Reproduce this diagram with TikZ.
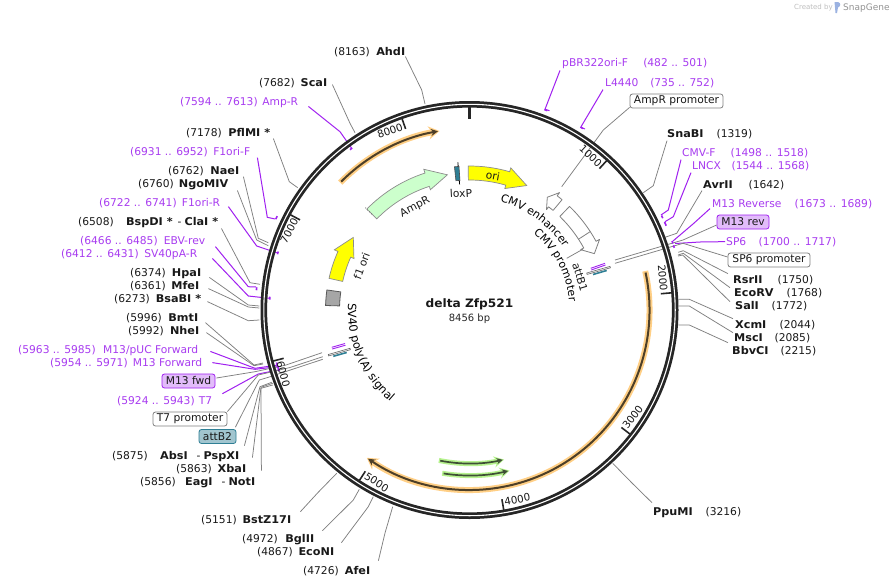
\documentclass[tikz,border=0pt]{standalone}
\usepackage{fontspec}
\setmainfont{DejaVu Sans}[BoldFeatures={FakeStretch=1.05}]
\usetikzlibrary{arrows.meta,decorations.text}
\definecolor{prim}{HTML}{A020F0}
\definecolor{primtxt}{HTML}{A83CF0}
\definecolor{conng}{HTML}{808080}
\definecolor{ringc}{HTML}{262626}
\definecolor{halo}{HTML}{FFCF85}
\definecolor{halog}{HTML}{B6F28E}
\definecolor{darkor}{HTML}{4D3F28}
\definecolor{darkgr}{HTML}{3F4F36}
\definecolor{yel}{HTML}{FFFF00}
\definecolor{teal1}{HTML}{2F7F95}
\tikzset{
  lbl/.style={anchor=base west,inner sep=0pt,font=\fontsize{10.7}{12}\selectfont,text=black!90},
  plbl/.style={lbl,text=primtxt},
  conn/.style={draw=conng,line width=0.75pt},
  pconn/.style={draw=prim,line width=1pt},
  rbox/.style={rounded corners=2.5pt,draw=conng,fill=white,line width=0.8pt,inner xsep=3pt,inner ysep=0pt,minimum height=14pt,font=\fontsize{10.7}{12}\selectfont,text=black!90},
  pbox/.style={rbox,draw=prim,fill=prim!30},
  tbox/.style={rbox,draw=teal1,fill=teal1!45},
  ticklab/.style={inner sep=0pt,font=\fontsize{10.3}{12}\selectfont,text=black!90},
  featlab/.style={inner sep=0pt,font=\fontsize{10.7}{12}\selectfont,text=black!90},
  primmark/.style={draw=prim,line width=1.6pt},
  whitefeat/.style={draw=conng,fill=white,line width=0.8pt,line join=round},
}
% label: [style]{name}{xL}{xR}{ycentre}{content}
\newcommand{\lab}[6][lbl]{\node[#1] (#2) at (#3,#5+4) {\hbox to \dimexpr #4pt-#3pt\relax{#6}};}
% connector: style, node, anchor, shift, elbow(s), free end
\newcommand{\cn}[6]{\coordinate (#2-end) at (#6); \draw[#1] ([shift={(#4)}]#2.#3) -- (#5) -- (#2-end);}
% feature arrow around centre: style, start, head base, tip
\newcommand{\featarrow}[4]{\draw[#1] ({#2-90}:130) arc[radius=130,start angle={#2-90},end angle={#3-90}] -- ({#3-90}:126.5) -- ({#4-90}:137) -- ({#3-90}:148) -- ({#3-90}:144) arc[radius=144,start angle={#3-90},end angle={#2-90}] -- cycle;}
\newcommand{\tickm}[1]{\draw[ringc,line width=1.6pt] ({#1-90}:203) -- ({#1-90}:192);}
\newcommand{\primer}[3]{\draw[primmark] ({#1-90}:#3) arc[radius=#3,start angle={#1-90},end angle={#2-90}];}
\begin{document}
\begin{tikzpicture}[x=1pt,y=-1pt]
\useasboundingbox[fill=white] (0,0) rectangle (891,587);
% watermark
\node[inner sep=0pt,anchor=west,font=\fontsize{7}{8}\selectfont,text=black!25] (wm1) at (794,7.5) {Created by};
\fill[cyan!45!blue!40] (834.5,2) -- (838,2) .. controls (841,3) and (841,6) .. (838,7.5) -- (837,13) -- (835.5,13) -- cycle;
\node[inner sep=0pt,anchor=west,font=\fontsize{9}{10}\selectfont,text=black!42] (wm2) at (843,8) {SnapGene};

% ---- labels: left
\lab{ahdi}{334}{405}{51}{(8163)\hfill\textbf{AhdI}}
\lab{scai}{259}{327}{82}{(7682)\hfill\textbf{ScaI}}
\lab[plbl]{ampr}{180}{298}{101}{(7594 .. 7613)\hfill Amp-R}
\lab{pflmi}{186}{270}{132}{(7178)\hfill\textbf{PflMI *}}
\lab[plbl]{fonef}{130}{250}{151}{(6931 .. 6952)\hfill F1ori-F}
\lab{naei}{168}{239}{170}{(6762)\hfill\textbf{NaeI}}
\lab{ngomiv}{138}{228}{183}{(6760)\hfill\textbf{NgoMIV}}
\lab[plbl]{foner}{99}{220}{202}{(6722 .. 6741)\hfill F1ori-R}
\lab{bspdi}{78}{218}{221}{(6508)\hfill\textbf{BspDI *}\hspace{5pt}-\hspace{3pt}\textbf{ClaI *}}
\lab[plbl]{ebvrev}{80}{205}{240}{(6466 .. 6485)\hfill EBV-rev}
\lab[plbl]{svpar}{61}{197}{253}{(6412 .. 6431)\hfill SV40pA-R}
\lab{hpai}{130}{201}{272}{(6374)\hfill\textbf{HpaI}}
\lab{mfei}{130}{199}{285}{(6361)\hfill\textbf{MfeI}}
\lab{bsabi}{114}{201}{298}{(6273)\hfill\textbf{BsaBI *}}
\lab{bmti}{126}{198}{317}{(5996)\hfill\textbf{BmtI}}
\lab{nhei}{128}{199}{330}{(5992)\hfill\textbf{NheI}}
\lab[plbl]{puc}{18}{198}{349}{(5963 .. 5985)\hfill M13/pUC Forward}
\lab[plbl]{mfwdp}{50}{202}{362}{(5954 .. 5971)\hfill M13 Forward}
\node[pbox,minimum width=53pt] (mfwd) at (188.5,381) {M13 fwd};
\lab[plbl]{tseven}{117}{212}{400}{(5924 .. 5943)\hfill T7}
\node[rbox,minimum width=74pt] (tprom) at (190,419) {T7 promoter};
\node[tbox,minimum width=37pt] (attbtwo) at (217.5,436.5) {attB2};
\lab{absi}{112}{239}{455}{(5875)\hfill\textbf{AbsI}\hspace{9pt}-\hspace{3pt}\textbf{PspXI}}
\lab{xbai}{176}{246}{468}{(5863)\hfill\textbf{XbaI}}
\lab{eagi}{140}{255}{481}{(5856)\hfill\textbf{EagI}\hspace{9pt}-\hspace{3pt}\textbf{NotI}}
\lab{bstz}{201}{291}{519}{(5151)\hfill\textbf{BstZ17I}}
\lab{bglii}{242}{314}{538}{(4972)\hfill\textbf{BglII}}
\lab{econi}{257}{334}{551}{(4867)\hfill\textbf{EcoNI}}
\lab{afei}{303}{370}{570}{(4726)\hfill\textbf{AfeI}}
% ---- labels: right
\lab[plbl]{pbr}{562}{707}{62}{pBR322ori-F\hfill(482 .. 501)}
\lab[plbl]{lfour}{605}{714}{82}{L4440\hfill(735 .. 752)}
\node[rbox,minimum width=93pt] (aprom) at (676.5,101) {AmpR promoter};
\lab{snabi}{667}{752}{133}{\textbf{SnaBI}\hfill(1319)}
\lab[plbl]{cmvf}{682}{808}{152}{CMV-F\hfill(1498 .. 1518)}
\lab[plbl]{lncx}{692}{809}{165}{LNCX\hfill(1544 .. 1568)}
\lab{avrii}{703}{784}{184}{\textbf{AvrII}\hfill(1642)}
\lab[plbl]{mrevp}{712}{872}{203}{M13 Reverse\hfill(1673 .. 1689)}
\node[pbox,minimum width=52pt] (mrev) at (743,222) {M13 rev};
\lab[plbl]{spsix}{726}{836}{241}{SP6\hfill(1700 .. 1717)}
\node[rbox,minimum width=82pt] (sprom) at (769,260) {SP6 promoter};
\lab{rsrii}{733}{813}{279}{\textbf{RsrII}\hfill(1750)}
\lab{ecorv}{734}{822}{292}{\textbf{EcoRV}\hfill(1768)}
\lab{sali}{735}{807}{305}{\textbf{SalI}\hfill(1772)}
\lab{xcmi}{735}{815}{324}{\textbf{XcmI}\hfill(2044)}
\lab{msci}{734}{810}{337}{\textbf{MscI}\hfill(2085)}
\lab{bbvci}{732}{816}{350}{\textbf{BbvCI}\hfill(2215)}
\lab{ppumi}{653}{741}{511}{\textbf{PpuMI}\hfill(3216)}

% ---- connectors (under the ring)
\cn{conn}{ahdi}{south east}{0,0}{421.7,90}{425,104}
\cn{conn}{scai}{south east}{5,-3}{350,123.3}{355,132.7}
\cn{pconn}{ampr}{south east}{10,-1}{340,131.7}{351.7,148.3}
\cn{conn}{pflmi}{south east}{3,1}{289.3,181.7}{297.7,187.7}
\cn{pconn}{fonef}{south east}{7,1}{267.3,217.3}{275,219}
\cn{conn}{naei}{south east}{4,1}{258.3,238.3}{268.3,242.7}
\cn{conn}{ngomiv}{south east}{9,1}{256.7,240}{268.3,245.7}
\cn{pconn}{foner}{south east}{8,-1}{256.7,246}{276.7,252.7}
\cn{conn}{bspdi}{south east}{3,1}{250,282.7}{260,284.3}
\cn{pconn}{ebvrev}{south east}{10,1}{248.3,286.7}{256,287}
\cn{pconn}{svpar}{south east}{15,-1}{248.3,296}{269.3,298.3}
\cn{conn}{hpai}{south east}{8,-1}{248.3,305}{259.3,306}
\cn{conn}{mfei}{south east}{9,-2}{248.3,307}{259.3,308}
\cn{conn}{bsabi}{south east}{6,-2}{248.3,320.7}{259.3,320}
\cn{conn}{bmti}{south east}{7,0}{254,365}{263,363}
\cn{conn}{nhei}{south east}{7,-3}{254,365.7}{263,364}
\cn{pconn}{puc}{south east}{12,-4}{255,368.3}{278,365}
\cn{pconn}{mfwdp}{south east}{10,-5}{255,369.3}{278,366.7}
\cn{conn}{mfwd}{east}{1,-3}{255,371.7) -- (286,365}{322,352.7}
\cn{pconn}{tseven}{north east}{10,-2}{258.3,374}{278,370}
\cn{conn}{tprom}{north east}{0,0}{258.3,375) -- (290,367.5}{322.7,356.7}
\cn{conn}{attbtwo}{north east}{-1,-2}{259.3,380) -- (268.3,377.3}{322.7,359.3}
\cn{conn}{absi}{north east}{5,-5}{260,386.7}{271.7,382.3}
\cn{conn}{xbai}{north east}{6,-6}{261,387.3}{272.7,383.3}
\cn{conn}{eagi}{north east}{6,-6}{261,388.3}{272.7,385}
\cn{conn}{bstz}{north east}{9,-3}{318,492.5}{336.7,473.3}
\cn{conn}{bglii}{north east}{8,-3}{353.3,500}{359.3,489.3}
\cn{conn}{econi}{north east}{7,-4}{368.3,506.7}{373.3,496.7}
\cn{conn}{afei}{north east}{8,-5}{385,533}{392.7,506.7}
\cn{conn}{ppumi}{north west}{-1,-4}{632,483}{612.7,463.3}
\cn{pconn}{pbr}{south west}{-2,2}{545,109.3}{549.5,110.7}
\cn{pconn}{lfour}{south west}{-2,2}{580.7,127.3}{585,129}
\cn{conn}{aprom}{south west}{0,-1}{603.3,130}{561.7,186.7}
\cn{conn}{snabi}{south west}{0,2}{653.3,185.7}{643.3,192.7}
\cn{pconn}{cmvf}{south west}{-1,2}{668.3,210}{661,215}
\cn{pconn}{lncx}{south west}{-1,2}{673.3,216.7}{665,221.7}
\cn{conn}{avrii}{south west}{-1,1}{676.7,233.3}{665,237.3}
\cn{pconn}{mrevp}{south west}{-2,0}{693,224}{673,241}
\cn{conn}{mrev}{west}{0,3}{683,240}{615,260}
\cn{pconn}{spsix}{west}{-1,0}{700,242}{675,243.5}
\cn{conn}{sprom}{west}{0,-3}{683,243.3}{615,263.3}
\cn{conn}{rsrii}{north west}{-5,-1}{683.3,250.7}{678.3,252.3}
\cn{conn}{ecorv}{north west}{-4,0}{683.3,253.3}{678,255}
\cn{conn}{sali}{north west}{-5,1}{682.7,255}{678,256}
\cn{conn}{xcmi}{north west}{-2,-1}{689.3,299.3}{678.3,299.3}
\cn{conn}{msci}{north west}{-1,0}{689.3,306}{678.3,306}
\cn{conn}{bbvci}{north west}{-4,-3}{689.3,325}{678.3,325}

% ---- around the centre
\begin{scope}[shift={(469.5,310)}]
  % backbone ring
  \draw[ringc,line width=6.6pt] (0,0) circle[radius=205.7];
  \draw[white,line width=1.1pt] (0,0) circle[radius=205.7];
  \draw[ringc,line width=3pt] (-90:203) -- (-90:191);
  \tickm{42.57}\tickm{85.14}\tickm{127.71}\tickm{170.28}\tickm{212.86}\tickm{255.43}\tickm{298}\tickm{340.57}
  % primer marks
  \primer{20.5}{21.3}{214}
  \primer{31.3}{32}{214}
  \primer{323.3}{324.1}{200}
  \primer{295.1}{296}{214}
  \primer{286.2}{287}{200}
  \primer{275.3}{276.1}{214}
  \primer{273}{273.8}{200}
  \primer{63.8}{64.6}{214}
  \primer{65.7}{66.8}{214}
  \primer{71.2}{71.9}{214}
  \primer{72.4}{73.1}{214}
  \primer{252.2}{254.8}{200}
  % orange / green arcs
  \draw[halo,line width=6pt,-{Stealth[length=11pt,width=13pt]}] (-135.4:181.5) arc[radius=181.5,start angle=-135.4,end angle=-99.5];
  \draw[darkor,line width=2pt,-{Stealth[length=7pt,width=7pt]}] (-135:181.5) arc[radius=181.5,start angle=-135,end angle=-100];
  \draw[halo,line width=6pt,-{Stealth[length=11pt,width=13pt]}] (-12.5:180) arc[radius=180,start angle=-12.5,end angle=124.8];
  \draw[darkor,line width=2pt,-{Stealth[length=7pt,width=7pt]}] (-12:180) arc[radius=180,start angle=-12,end angle=124.3];
  \draw[halog,line width=5pt,-{Stealth[length=10pt,width=11pt]}] (101.5:153.5) arc[radius=153.5,start angle=101.5,end angle=77];
  \draw[darkgr,line width=1.7pt,-{Stealth[length=6pt,width=6pt]}] (101:153.5) arc[radius=153.5,start angle=101,end angle=77.5];
  \draw[halog,line width=5pt,-{Stealth[length=10pt,width=11pt]}] (99.5:165.5) arc[radius=165.5,start angle=99.5,end angle=76];
  \draw[darkgr,line width=1.7pt,-{Stealth[length=6pt,width=6pt]}] (99:165.5) arc[radius=165.5,start angle=99,end angle=76.5];
  % features
  \featarrow{draw=black!45,fill=green!20,line width=0.7pt}{-45.5}{-18}{-9.3}
  \draw[black!60,line width=0.8pt,dotted] (-135.5:146) -- (-135.5:136);
  \featarrow{draw=black!45,fill=yel,line width=0.7pt}{-0.5}{16.2}{24.7}
  \featarrow{draw=black!45,fill=yel,line width=0.7pt}{-77.3}{-66}{-58}
  \featarrow{whitefeat}{40}{37.5}{34.6}
  \featarrow{whitefeat}{44}{61.5}{65.7}
  \draw[conng,line width=0.8pt] (-33:130) -- (-33:144);
  % SV40 poly(A) block
  \draw[black!65,fill=black!35,line width=0.8pt] (-178.2:130) arc[radius=130,start angle=-178.2,end angle=-172] -- (-172:144) arc[radius=144,start angle=-172,end angle=-178.2] -- cycle;
  % loxP
  \draw[black,line width=0.8pt] (-94.5:126) -- (-94.5:148);
  \draw[black!70,fill=teal1,line width=0.6pt] (-96:130) arc[radius=130,start angle=-96,end angle=-94.2] -- (-94.2:144) arc[radius=144,start angle=-94.2,end angle=-96] -- cycle;
  % curved labels
  \path[decorate,decoration={text along path,text align=center,text={|\fontsize{11}{12}\selectfont|CMV enhancer}}] (-78:113) arc[radius=113,start angle=-78,end angle=-30];
  \path[decorate,decoration={text along path,text align=center,text={|\fontsize{11}{12}\selectfont|CMV promoter}}] (-55:100) arc[radius=100,start angle=-55,end angle=0];
  \path[decorate,decoration={text along path,text align=center,text={|\fontsize{11.4}{12}\selectfont|SV40 poly(A) signal}}] (188:121.5) arc[radius=121.5,start angle=188,end angle=126];
\end{scope}
% small features beside the ring
\draw[prim,line width=0.9pt] (590.7,268.3) -- (605,263.3);
\draw[prim,line width=0.9pt] (591.2,270) -- (605.5,265);
\draw[black!60,fill=white,line width=0.6pt] (586.7,273) -- (610,266.4) -- (610.4,267.8) -- (587.1,274.4) -- cycle;
\draw[teal1,line width=1.6pt] (593,274.5) -- (606.7,270.5);
\draw[prim,line width=0.9pt] (331.7,347.3) -- (345,343.5);
\draw[prim,line width=0.9pt] (332.2,349) -- (345.5,345.2);
\draw[black!60,fill=white,line width=0.6pt] (328.3,354.5) -- (350,348.3) -- (350.4,349.7) -- (328.7,355.9) -- cycle;
\draw[teal1,line width=1.6pt] (333.3,356.3) -- (346.7,352.5);
\coordinate (pcA) at (566.7,258.3);
\coordinate (pcB) at (582.7,249.3);
\draw[conn] (pcA) -- (pcB);

% tick labels
\node[ticklab,rotate=-42.6] (tk1) at (590.7,156) {1000};
\node[ticklab,rotate=-85] (tk2) at (662.7,278) {2000};
\node[ticklab,rotate=52] (tk3) at (632.7,417.3) {3000};
\node[ticklab,rotate=10] (tk4) at (517.3,499.3) {4000};
\node[ticklab,rotate=-33] (tk5) at (376.7,482.3) {5000};
\node[ticklab,rotate=-75] (tk6) at (283.3,374) {6000};
\node[ticklab,rotate=62] (tk7) at (289.3,230.7) {7000};
\node[ticklab,rotate=19] (tk8) at (390,130.7) {8000};
% feature labels
\node[featlab,rotate=-10] (lbori) at (493,176) {ori};
\node[featlab,rotate=27] (lbamp) at (415,207.3) {AmpR};
\node[featlab,rotate=3] (lblox) at (461,193.3) {loxP};
\node[featlab,rotate=-73.5] (lbatt) at (580,277.3) {attB1};
\node[featlab,rotate=70] (lbfone) at (361.7,266) {f1 ori};
% title
\node[inner sep=0pt,font=\bfseries\fontsize{11.6}{14}\selectfont,text=black!90] (title) at (469.5,304.5) {delta Zfp521};
\node[inner sep=0pt,font=\fontsize{10}{12}\selectfont,text=black!85] (size) at (469.5,318.5) {8456 bp};
\end{tikzpicture}
\end{document}
